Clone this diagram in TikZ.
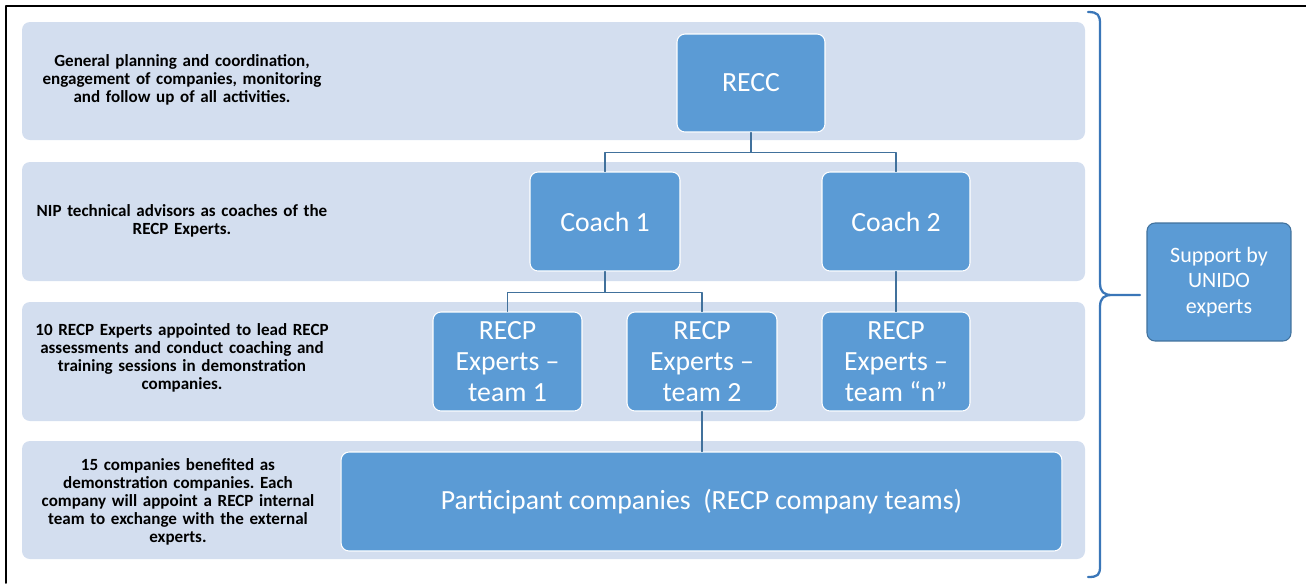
\documentclass[tikz,border=0pt]{standalone}
\usepackage{fontspec}
\setmainfont{Carlito}
\usetikzlibrary{calc}
\frenchspacing
\definecolor{bandblue}{HTML}{D3DEEF}
\definecolor{boxblue}{HTML}{5B9BD5}
\definecolor{edgeblue}{HTML}{41719C}
\definecolor{braceblue}{HTML}{3A76B8}
\begin{document}
\begin{tikzpicture}[x=0.02cm, y=-0.02cm, line join=round, line cap=round,
	band/.style={fill=bandblue, rounded corners=0.16cm},
	unit/.style={draw=white, line width=0.6pt, fill=boxblue, rounded corners=0.16cm, text=white, align=center,
		font=\fontsize{15.8}{17.6}\selectfont, inner sep=1pt},
	note/.style={align=center, text width=6.4cm, font=\bfseries\fontsize{9.7}{10.3}\selectfont},
	link/.style={draw=edgeblue, line width=0.6pt}]
	\useasboundingbox (0,0) rectangle (1306,583);
	\draw[line width=1.1pt] (1306,6)--(6,6)--(6,583);
	\foreach \t/\b in {22/140,162/281,302/421,441/559}{
		\fill[band] (22,\t) rectangle (1085,\b);
	}
	% left notes
	\node[note] (n1) at (182,80) {General planning and coordination,\\ engagement of companies, monitoring\\ and follow up of all activities.};
	\node[note] (n2) at (182,221) {NIP technical advisors as coaches of the\\ RECP Experts.};
	\node[note] (n3) at (182,358) {10 RECP Experts appointed to lead RECP\\ assessments and conduct coaching and\\ training sessions in demonstration\\ companies.};
	\node[note] (n4) at (178,502) {15 companies benefited as\\ demonstration companies.~Each\\ company will appoint a RECP internal\\ team to exchange with the external\\ experts.};
	% boxes
	\node[unit, minimum width=2.96cm, minimum height=1.96cm] (recc) at (751,83) {RECC};
	\node[unit, minimum width=3cm, minimum height=1.98cm] (coach1) at (605,221.5) {Coach 1};
	\node[unit, minimum width=2.96cm, minimum height=1.98cm] (coach2) at (896,221.5) {Coach 2};
	\node[unit, minimum width=2.98cm, minimum height=1.98cm] (team1) at (507.5,361.5) {RECP\\ Experts --\\ team 1};
	\node[unit, minimum width=3cm, minimum height=1.98cm] (team2) at (702,361.5) {RECP\\ Experts --\\ team 2};
	\node[unit, minimum width=2.96cm, minimum height=1.98cm] (teamn) at (896,361.5) {RECP\\ Experts --\\ team “n”};
	\node[unit, minimum width=14.42cm, minimum height=1.98cm] (part) at (701.5,501.5) {Participant companies\ \ (RECP company teams)};
	\node[unit, draw=edgeblue, minimum width=2.88cm, minimum height=2.36cm, font=\fontsize{12.5}{14.5}\selectfont] (unido) at (1219,282) {Support by\\ UNIDO\\ experts};
	% links
	\draw[link] (recc.south) -- ++(0,20) coordinate (j1) -| (coach1.north);
	\draw[link] (j1) -| (coach2.north);
	\draw[link] (coach1.south) -- ++(0,21) coordinate (j2) -| (team1.north);
	\draw[link] (j2) -| (team2.north);
	\draw[link] (coach2.south) -- (teamn.north);
	\draw[link] (team2.south) -- (team2.south |- part.north);
	% brace
	\coordinate (tip) at (1140,295);
	\draw[braceblue, line width=1.3pt] (1088,12) .. controls (1098,12) and (1100,15) .. (1100,24) -- (1100,283)
		.. controls (1100,292) and (1104,295) .. (1112,295) -- (tip)
		(1112,295) .. controls (1104,295) and (1100,298) .. (1100,307) -- (1100,566)
		.. controls (1100,575) and (1098,577) .. (1088,577);
\end{tikzpicture}
\end{document}
